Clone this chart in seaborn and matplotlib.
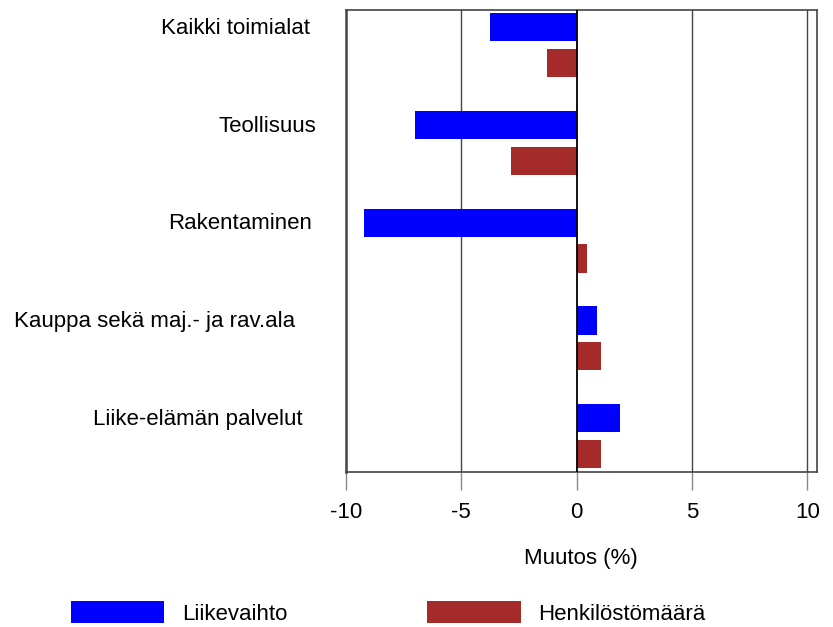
import matplotlib
matplotlib.use("Agg")
import matplotlib.pyplot as plt
import matplotlib.transforms as mtransforms
from matplotlib.patches import Patch
import seaborn as sns
import pandas as pd

categories = ["Kaikki toimialat", "Teollisuus", "Rakentaminen",
              "Kauppa sekä maj.- ja rav.ala", "Liike-elämän palvelut"]
liikevaihto = [-3.75, -7.0, -9.2, 0.9, 1.9]
henkilosto = [-1.3, -2.85, 0.45, 1.05, 1.05]
series_names = ["Liikevaihto", "Henkilöstömäärä"]
xticks = [-10, -5, 0, 5, 10]
xlabel = "Muutos (%)"

df = pd.DataFrame({
    "cat": categories * 2,
    "val": liikevaihto + henkilosto,
    "series": [series_names[0]] * len(categories) + [series_names[1]] * len(categories),
})

sns.set_theme(style="white")
plt.rcParams["font.family"] = ["Liberation Sans", "DejaVu Sans"]
plt.rcParams["text.color"] = "black"
plt.rcParams["axes.labelcolor"] = "black"
plt.rcParams["xtick.color"] = "black"

FS = 16
colors = ["#0000FF", "#A52A2A"]

fig = plt.figure(figsize=(8.33, 6.27), dpi=100)
ax = fig.add_axes([345.7 / 833, 1 - 471.7 / 627, (816.7 - 345.7) / 833, (471.7 - 9.5) / 627])

sns.barplot(data=df, y="cat", x="val", hue="series", orient="h",
            palette=colors, width=0.732, gap=0.21, dodge=True,
            saturation=1, linewidth=0, ax=ax, legend=False)

ax.set_xlim(-10, 10.4)
ax.set_ylim(4.365, -0.365)
ax.set_xticks(xticks)
ax.set_xticklabels([str(t) for t in xticks], fontsize=FS, color="black")
ax.set_yticks([])
ax.set_ylabel("")
ax.set_xlabel(xlabel, fontsize=FS, labelpad=18, color="black")

for x in [-5, 5, 10]:
    ax.axvline(x, color="#444444", lw=1.0, zorder=0)
ax.axvline(0, color="black", lw=1.3, zorder=3)

for s in ax.spines.values():
    s.set_color("#444444")
    s.set_linewidth(1.2)
ax.spines["left"].set_linewidth(1.8)

ax.tick_params(axis="x", bottom=True, direction="out", length=13, width=1.0,
               color="#888888", pad=9, labelcolor="black")

# category labels aligned at blue bar centres
label_right_px = [310, 316, 312, 295, 303]
trans = mtransforms.blended_transform_factory(ax.transAxes, ax.transData)
for i, (cat, xr) in enumerate(zip(categories, label_right_px)):
    ax.text((xr - 345.7) / 471.0, i - 0.17, cat, transform=trans,
            ha="right", va="center", fontsize=FS, clip_on=False, color="black")

handles = [Patch(facecolor=c, edgecolor="none") for c in colors]
fig.legend(handles, series_names, loc="center left",
           bbox_to_anchor=(62 / 833, 1 - 613 / 627), ncol=2, frameon=False,
           fontsize=FS, handlelength=4.2, handleheight=1.15,
           handletextpad=0.8, columnspacing=6.3, borderaxespad=0,
           labelcolor="black")

fig.savefig("out.png", dpi=100, facecolor="white")
